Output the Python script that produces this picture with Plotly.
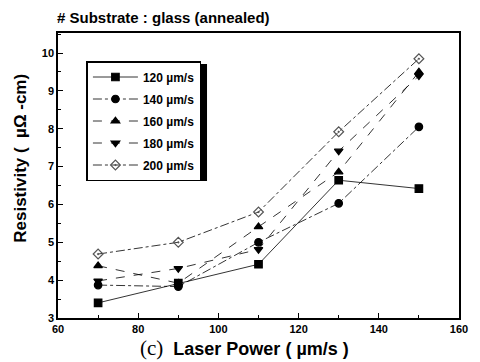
import plotly.graph_objects as go

power = [70, 90, 110, 130, 150]
series_names = ["120 \u00b5m/s", "140 \u00b5m/s", "160 \u00b5m/s", "180 \u00b5m/s", "200 \u00b5m/s"]
r120 = [3.40, 3.92, 4.42, 6.64, 6.42]
r140 = [3.87, 3.83, 5.00, 6.03, 8.05]
r160 = [4.38, 3.92, 5.41, 6.86, 9.50]
r180 = [3.98, 4.31, 4.81, 7.41, 9.40]
r200 = [4.69, 5.00, 5.80, 7.92, 9.85]

series = [r120, r140, r160, r180, r200]
symbols = ["square", "circle", "triangle-up", "triangle-down", "diamond-open-dot"]
dashes = ["solid", "dashdot", "dash", "dash", "dashdot"]
mcolors = ["black", "black", "black", "black", "#555555"]

fig = go.Figure()
for i, (name, ys, sym, d, mc) in enumerate(zip(series_names, series, symbols, dashes, mcolors)):
    fig.add_trace(go.Scatter(
        x=power, y=ys, name=name, mode="lines+markers", legendgroup=f"g{i}",
        line=dict(color="black", width=0.8, dash=d),
        marker=dict(symbol=sym, size=7.5, color=mc, line=dict(color=mc, width=1.2)),
    ))

L, R, T, B = 58, 13, 33, 44
PW, PH = 480 - L - R, 362 - T - B

def px(x):
    return (x - L) / PW

def py(y):
    return (362 - B - y) / PH

axis_font = dict(family="Liberation Sans", size=11, color="black", weight="bold")
fig.update_layout(
    width=480, height=362,
    margin=dict(l=L, r=R, t=T, b=B),
    paper_bgcolor="white", plot_bgcolor="white",
    showlegend=True,
    legend=dict(x=px(87), y=py(61), xanchor="left", yanchor="top",
                bgcolor="white", bordercolor="black", borderwidth=1.5,
                font=dict(family="Liberation Sans", size=12, color="black", weight="bold"),
                tracegroupgap=3, itemwidth=45),
    xaxis=dict(range=[60, 160], tickvals=[60, 80, 100, 120, 140, 160],
               ticks="inside", ticklen=5, tickcolor="black",
               minor=dict(dtick=10, ticks="inside", ticklen=3, tickcolor="black"),
               showline=True, linecolor="black", linewidth=1.5, mirror=True,
               showgrid=False, zeroline=False, tickfont=axis_font),
    yaxis=dict(range=[3, 10.53], tickvals=[3, 4, 5, 6, 7, 8, 9, 10],
               ticks="inside", ticklen=5, tickcolor="black",
               minor=dict(dtick=0.5, ticks="inside", ticklen=3, tickcolor="black"),
               showline=True, linecolor="black", linewidth=1.5, mirror=True,
               showgrid=False, zeroline=False, tickfont=axis_font),
    shapes=[
        dict(type="rect", xref="paper", yref="paper",
             x0=px(90), x1=px(210), y0=py(181), y1=py(64),
             fillcolor="black", line=dict(width=0), layer="above"),
    ],
    annotations=[
        dict(text="<b># Substrate : glass (annealed)</b>", x=px(55), y=py(17),
             xref="paper", yref="paper", showarrow=False, xanchor="left", yanchor="middle",
             font=dict(family="Liberation Sans", size=15, color="black")),
        dict(text="<span style=\"font-family:Liberation Serif;font-size:21px\">(c)</span>  <b>Laser Power ( \u00b5m/s )</b>",
             x=px(248), y=py(348), xref="paper", yref="paper", showarrow=False,
             xanchor="center", yanchor="middle",
             font=dict(family="Liberation Sans", size=18, color="black")),
        dict(text="<b>Resistivity (  \u00b5\u03a9 -cm)</b>", x=px(19), y=py(158),
             xref="paper", yref="paper", showarrow=False, textangle=-90,
             xanchor="center", yanchor="middle",
             font=dict(family="Liberation Sans", size=17, color="black")),
    ],
)

fig.write_html("out.html")
